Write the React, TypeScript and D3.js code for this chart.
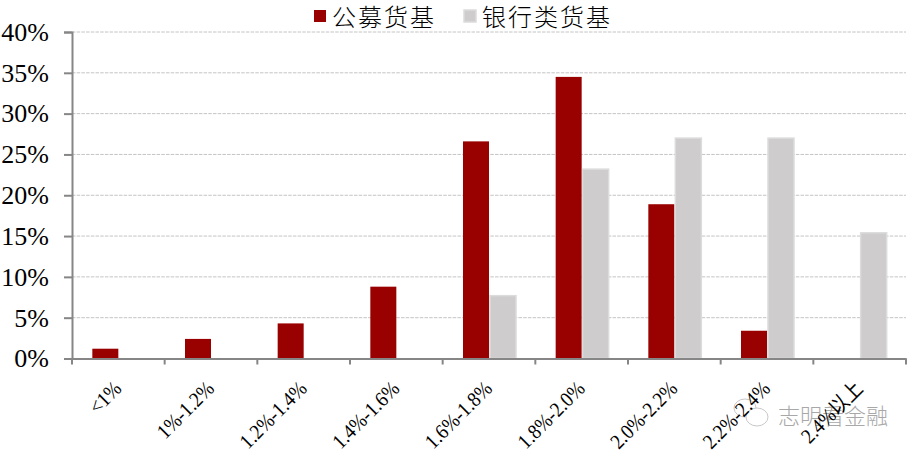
import React, { useEffect, useRef } from 'react';
import * as d3 from 'd3';

const categories: string[] = ['<1%', '1%-1.2%', '1.2%-1.4%', '1.4%-1.6%', '1.6%-1.8%', '1.8%-2.0%', '2.0%-2.2%', '2.2%-2.4%', '2.4%以上'];
const publicFunds: number[] = [1.2, 2.4, 4.3, 8.8, 26.6, 34.5, 18.9, 3.4, 0];
const bankFunds: number[] = [0, 0, 0, 0, 7.7, 23.2, 27, 27, 15.4];
const yTicks: number[] = [0, 5, 10, 15, 20, 25, 30, 35, 40];
const seriesNames: string[] = ['公募货基', '银行类货基'];
const watermark = '志明看金融';

const RED = '#990000';
const GREY = '#cecccc';
const AXIS = '#868686';
const SERIF = '"Liberation Serif", "Noto Sans CJK SC", serif';

const App: React.FC = () => {
    const svgRef = useRef<SVGSVGElement>(null);

    useEffect(() => {
        if (!svgRef.current) return;
        const svg = d3.select(svgRef.current);
        svg.selectAll('*').remove();

        const x = d3.scaleBand<string>().domain(categories).range([72, 906]);
        const y = d3.scaleLinear().domain([0, 40]).range([358.5, 32]);
        const barWidth = 26;

        // grid lines
        svg.append('g')
            .selectAll('line')
            .data(yTicks.filter(d => d > 0))
            .enter().append('line')
            .attr('x1', 72)
            .attr('x2', 906)
            .attr('y1', d => y(d))
            .attr('y2', d => y(d))
            .attr('stroke', '#c4c4c4')
            .attr('stroke-width', 1)
            .attr('stroke-dasharray', '3.5,1.2');

        // bars
        const center = (i: number) => (x(categories[i]) as number) + x.bandwidth() / 2;
        svg.append('g')
            .selectAll('rect')
            .data(publicFunds)
            .enter().append('rect')
            .attr('x', (_, i) => center(i) - barWidth)
            .attr('y', d => y(d))
            .attr('width', barWidth)
            .attr('height', d => y(0) - y(d))
            .attr('fill', RED);

        svg.append('g')
            .selectAll('rect')
            .data(bankFunds)
            .enter().append('rect')
            .attr('x', (_, i) => center(i) + 1)
            .attr('y', d => y(d))
            .attr('width', barWidth)
            .attr('height', d => y(0) - y(d))
            .attr('fill', d => (d > 0 ? GREY : 'none'))
            .attr('stroke', d => (d > 0 ? '#dcdcdc' : 'none'))
            .attr('stroke-width', 1.5);

        // y axis
        const yAxis = d3.axisLeft(y)
            .tickValues(yTicks)
            .tickSize(8)
            .tickPadding(15)
            .tickFormat(d => `${d}%`);
        const yG = svg.append('g').attr('transform', 'translate(72,0)').call(yAxis);
        yG.selectAll('path, line').attr('stroke', AXIS).attr('stroke-width', 2);
        yG.selectAll('text')
            .attr('fill', '#000')
            .style('font-family', SERIF)
            .style('font-size', '26px');

        // x axis
        const xAxis = d3.axisBottom(x).tickSize(0).tickFormat(() => '');
        const xG = svg.append('g').attr('transform', `translate(0,${y(0)})`).call(xAxis);
        xG.selectAll('path').attr('stroke', AXIS).attr('stroke-width', 2);
        xG.selectAll('.tick').remove();
        xG.selectAll('line.sep')
            .data(d3.range(categories.length + 1))
            .enter().append('line')
            .attr('class', 'sep')
            .attr('x1', i => 72 + i * x.step())
            .attr('x2', i => 72 + i * x.step())
            .attr('y1', 0)
            .attr('y2', 6)
            .attr('stroke', AXIS)
            .attr('stroke-width', 2);

        // watermark sits under the labels
        const mark = svg.append('g').attr('fill', 'none').attr('stroke', '#c8c8c8').attr('stroke-width', 1);
        mark.append('ellipse').attr('cx', 745).attr('cy', 408).attr('rx', 11).attr('ry', 9).attr('fill', '#fff');
        mark.append('ellipse').attr('cx', 757).attr('cy', 417).attr('rx', 11).attr('ry', 9).attr('fill', '#fff');
        svg.append('text')
            .attr('x', 778)
            .attr('y', 424)
            .attr('fill', '#a8a8a8')
            .style('font-family', '"Noto Sans CJK SC", sans-serif')
            .style('font-weight', 300)
            .style('font-size', '22px')
            .text(watermark);

        // rotated category labels, squeezed along the baseline like the original
        svg.append('g')
            .selectAll('text')
            .data(categories)
            .enter().append('text')
            .attr('transform', (_, i) => `translate(${center(i) + 1},${y(0) + 28}) rotate(-45) scale(0.9,1)`)
            .attr('text-anchor', 'end')
            .attr('dominant-baseline', 'middle')
            .attr('fill', '#000')
            .style('font-family', SERIF)
            .style('font-size', '21px')
            .text(d => d);

        // legend
        const legendX = [314, 464];
        const legendColors = [RED, GREY];
        seriesNames.forEach((name, i) => {
            svg.append('rect')
                .attr('x', legendX[i])
                .attr('y', 10)
                .attr('width', 12)
                .attr('height', 12)
                .attr('fill', legendColors[i])
                .attr('stroke', i === 1 ? '#dcdcdc' : 'none')
                .attr('stroke-width', 1.5);
            svg.append('text')
                .attr('x', legendX[i] + 18)
                .attr('y', 26)
                .attr('fill', '#000')
                .style('font-family', '"Noto Sans CJK SC", sans-serif')
                .style('font-weight', 300)
                .style('font-size', '24px')
                .style('letter-spacing', '2px')
                .text(name);
        });
    }, []);

    return (
        <svg
            ref={svgRef}
            width={917}
            height={455}
            style={{ position: 'absolute', left: 0, top: 0, background: '#fff' }}
        />
    );
};

export default App;
